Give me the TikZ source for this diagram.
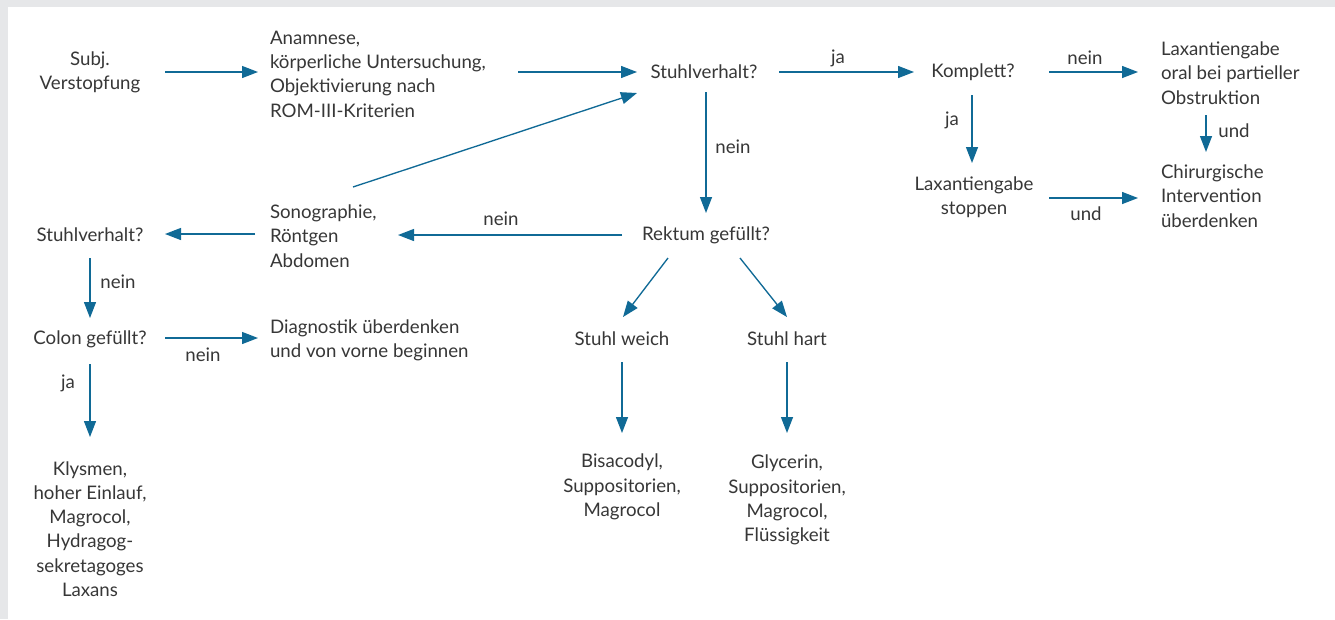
\documentclass[tikz,border=0pt]{standalone}
\usepackage{fontspec}
\setmainfont{Lato}
\usetikzlibrary{arrows.meta,calc}
\definecolor{arrowblue}{RGB}{16,106,150}
\definecolor{txt}{RGB}{55,55,55}
\definecolor{framegray}{RGB}{230,231,233}
\begin{document}
\begin{tikzpicture}[x=0.75pt,y=-0.75pt,
  every node/.style={inner sep=0pt, outer sep=0pt, text=txt, font=\fontsize{14}{18.2}\selectfont},
  arr/.style={draw=arrowblue, line width=1pt, -{Triangle[length=12pt,width=9pt]}},
  lbl/.style={}]
\fill[framegray] (0,0) rectangle (1335,619);
\fill[white] (8,7) rectangle (1335,619);
\useasboundingbox (0,0) rectangle (1335,619);

% nodes
\node[align=center] (subj) at (90,72) {Subj.\\Verstopfung};
\node[align=left,anchor=west] (anam) at (270,74) {Anamnese,\\körperliche Untersuchung,\\Objektivierung nach\\ROM-III-Kriterien};
\node (sv1) at (704,72) {Stuhlverhalt?};
\node (kompl) at (973,72) {Komplett?};
\node[align=left,anchor=west] (laxoral) at (1161,73) {Laxantiengabe\\oral bei partieller\\Obstruktion};
\node[align=left,anchor=west] (chir) at (1161,196) {Chirurgische\\Intervention\\überdenken};
\node[align=center] (laxstop) at (974,197) {Laxantiengabe\\stoppen};
\node (rekt) at (706,235) {Rektum gefüllt?};
\node[align=left,anchor=west] (sono) at (270,236) {Sonographie,\\Röntgen\\Abdomen};
\node (sv2) at (90,235) {Stuhlverhalt?};
\node (colon) at (90,339) {Colon gefüllt?};
\node[align=left,anchor=west] (diag) at (270,340) {Diagnostik überdenken\\und von vorne beginnen};
\node[align=center] (klys) at (90,529) {Klysmen,\\hoher Einlauf,\\Magrocol,\\Hydragog-\\sekretagoges\\Laxans};
\node (weich) at (622,339) {Stuhl weich};
\node (hart) at (787,339) {Stuhl hart};
\node[align=center] (bisa) at (622,487) {Bisacodyl,\\Suppositorien,\\Magrocol};
\node[align=center] (glyc) at (787,500) {Glycerin,\\Suppositorien,\\Magrocol,\\Flüssigkeit};

% labels
\node[lbl] (lja1) at (838,58) {ja};
\node[lbl] (lnein1) at (1085,58) {nein};
\node[lbl] (lund1) at (1234,131) {und};
\node[lbl] (lja2) at (952,120) {ja};
\node[lbl] (lund2) at (1086,214) {und};
\node[lbl] (lnein2) at (733,147) {nein};
\node[lbl] (lnein3) at (501,219) {nein};
\node[lbl] (lnein4) at (118,282) {nein};
\node[lbl] (lnein5) at (203,355) {nein};
\node[lbl] (lja3) at (68,383) {ja};

% connectors
\draw[arr] ($(subj)+(75,0)$) -- ($(anam.west)+(-12,-2)$);
\draw[arr] ($(anam.west)+(248,-2)$) -- ($(sv1)+(-67,0)$);
\draw[arr] ($(sv1)+(75,0)$) -- ($(kompl)+(-59,0)$);
\draw[arr] ($(kompl)+(76,0)$) -- ($(laxoral.west)+(-23,-1)$);
\draw[arr] ($(laxoral.west)+(45,42)$) -- ($(chir.west)+(45,-44)$);
\draw[arr] ($(kompl)+(-1,23)$) -- ($(laxstop)+(-2,-34)$);
\draw[arr] ($(laxstop)+(75,1)$) -- ($(chir.west)+(-23,2)$);
\draw[arr] ($(sv1)+(2,20)$) -- ($(rekt)+(0,-22)$);
\draw[arr] ($(sono.west)+(83,-49)$) -- ($(sv1)+(-67,21)$);
\draw[arr] ($(rekt)+(-84,0)$) -- ($(sono.west)+(128,-1)$);
\draw[arr] ($(sono.west)+(-15,-2)$) -- ($(sv2)+(75,-1)$);
\draw[arr] ($(sv2)+(0,23)$) -- ($(colon)+(0,-21)$);
\draw[arr] ($(colon)+(75,-1)$) -- ($(diag.west)+(-12,-2)$);
\draw[arr] ($(colon)+(0,25)$) -- ($(klys)+(0,-92)$);
\draw[arr] ($(rekt)+(-38,23)$) -- ($(weich)+(1,-22)$);
\draw[arr] ($(rekt)+(34,23)$) -- ($(hart)+(0,-22)$);
\draw[arr] ($(weich)+(0,23)$) -- ($(bisa)+(0,-54)$);
\draw[arr] ($(hart)+(0,23)$) -- ($(glyc)+(0,-67)$);
\end{tikzpicture}
\end{document}
